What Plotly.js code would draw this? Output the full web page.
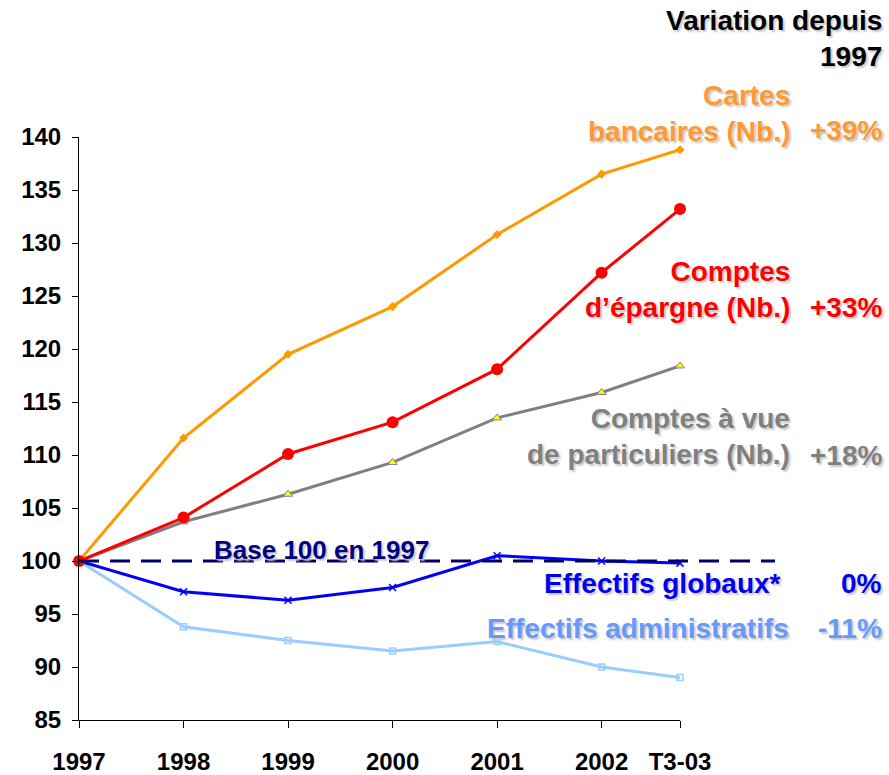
<!DOCTYPE html>
<html>
<head>
<meta charset="utf-8">
<script src="https://cdn.plot.ly/plotly-3.0.1.min.js"></script>
<style>
  body { margin: 0; background: #fff; }
  #chart { width: 889px; height: 775px; }
</style>
</head>
<body>
<div id="chart"></div>
<script>
// x positions: T3-03 sits three quarters of a year after 2002
var xPos = [1997, 1998, 1999, 2000, 2001, 2002, 2002.75];
var xLabels = ["1997", "1998", "1999", "2000", "2001", "2002", "T3-03"];

var cartes = [100, 111.6, 119.5, 124.0, 130.8, 136.5, 138.8];
var epargne = [100, 104.1, 110.1, 113.1, 118.1, 127.2, 133.2];
var comptesVue = [100, 103.7, 106.3, 109.3, 113.5, 115.9, 118.4];
var effGlobaux = [100, 97.1, 96.3, 97.5, 100.5, 100.0, 99.8];
var effAdmin = [100, 93.8, 92.5, 91.5, 92.4, 90.0, 89.0];

var baseValue = 100;
var yMin = 85, yMax = 140;

var FONT = "Liberation Sans, Arial, sans-serif";
var SHADOW = "2px 2px 2px #c8c8c8";

function line(y, color, marker) {
  return {
    x: xPos, y: y, type: "scatter", mode: "lines+markers",
    line: { color: color, width: 3 },
    marker: marker,
    cliponaxis: false
  };
}

var data = [
  line(effAdmin, "#99CCFF", { symbol: "square-open", size: 6, color: "#99CCFF", line: { width: 1.5 } }),
  line(effGlobaux, "#0000FF", { symbol: "x-thin-open", size: 7, color: "#0000FF", line: { width: 1.5, color: "#0000FF" } }),
  line(comptesVue, "#808080", { symbol: "triangle-up", size: 8, color: "#FFFF00", line: { width: 1, color: "#808080" } }),
  line(cartes, "#FF9900", { symbol: "diamond", size: 7, color: "#FF9900" }),
  line(epargne, "#FF0000", { symbol: "circle", size: 12, color: "#FF0000" })
];

function yPaper(v) { return (v - yMin) / (yMax - yMin); }

function note(text, x, y, color, xanchor, extra) {
  var a = {
    text: text, xref: "paper", yref: "paper", x: x, y: y,
    xanchor: xanchor || "right", yanchor: "middle", align: "right",
    showarrow: false,
    font: { family: FONT, size: 28, weight: "bold", color: color, shadow: SHADOW }
  };
  for (var k in extra) a[k] = extra[k];
  return a;
}

var layout = {
  width: 889,
  height: 775,
  margin: { l: 79, r: 209, t: 137, b: 55 },
  paper_bgcolor: "#ffffff",
  plot_bgcolor: "#ffffff",
  showlegend: false,
  hovermode: false,
  font: { family: FONT, color: "#000000" },
  xaxis: {
    range: [1997, 2002.75],
    tickvals: xPos,
    ticktext: xLabels,
    showgrid: false,
    zeroline: false,
    showline: true,
    linecolor: "#000000",
    linewidth: 1,
    ticks: "outside",
    ticklen: 7,
    tickcolor: "#000000",
    ticklabelstandoff: 13,
    tickfont: { family: FONT, size: 24, weight: "bold", color: "#000000" }
  },
  yaxis: {
    range: [yMin, yMax],
    dtick: 5,
    tick0: 85,
    showgrid: false,
    zeroline: false,
    showline: true,
    linecolor: "#000000",
    linewidth: 1,
    ticks: "outside",
    ticklen: 6,
    tickcolor: "#000000",
    ticklabelstandoff: 6,
    tickfont: { family: FONT, size: 24, weight: "bold", color: "#000000" }
  },
  shapes: [{
    type: "line", xref: "paper", yref: "paper",
    x0: 0, x1: 1.158, y0: yPaper(baseValue), y1: yPaper(baseValue),
    line: { color: "#000066", width: 3, dash: "20px,11px" }
  }],
  annotations: [
    note("RESEAU DE DETAIL EN FRANCE", -0.007, 1.226, "#000000", "left", { yanchor: "bottom", align: "left" }),
    note("Variation depuis<br>1997", 1.3394, 1.169, "#000000"),
    note("Cartes<br>bancaires (Nb.)", 1.1864, 1.0403, "#FF9933"),
    note("+39%", 1.3394, 1.0103, "#FF9933"),
    note("Comptes<br>d’épargne (Nb.)", 1.1864, 0.7384, "#FF0000"),
    note("+33%", 1.3394, 0.7084, "#FF0000"),
    note("Comptes à vue<br>de particuliers (Nb.)", 1.1864, 0.4863, "#808080"),
    note("+18%", 1.3394, 0.4545, "#808080"),
    note("Base 100 en 1997", 0.4043, 0.2916, "#000080", "center", { font: { family: FONT, size: 26, weight: "bold", color: "#000080", shadow: SHADOW } }),
    note("Effectifs globaux*", 1.1714, 0.2333, "#0000EE"),
    note("0%", 1.3394, 0.2333, "#0000EE"),
    note("Effectifs administratifs", 1.1847, 0.1561, "#6699FF"),
    note("-11%", 1.3394, 0.1561, "#6699FF")
  ]
};

Plotly.newPlot("chart", data, layout, { displayModeBar: false, staticPlot: true });
</script>
</body>
</html>
